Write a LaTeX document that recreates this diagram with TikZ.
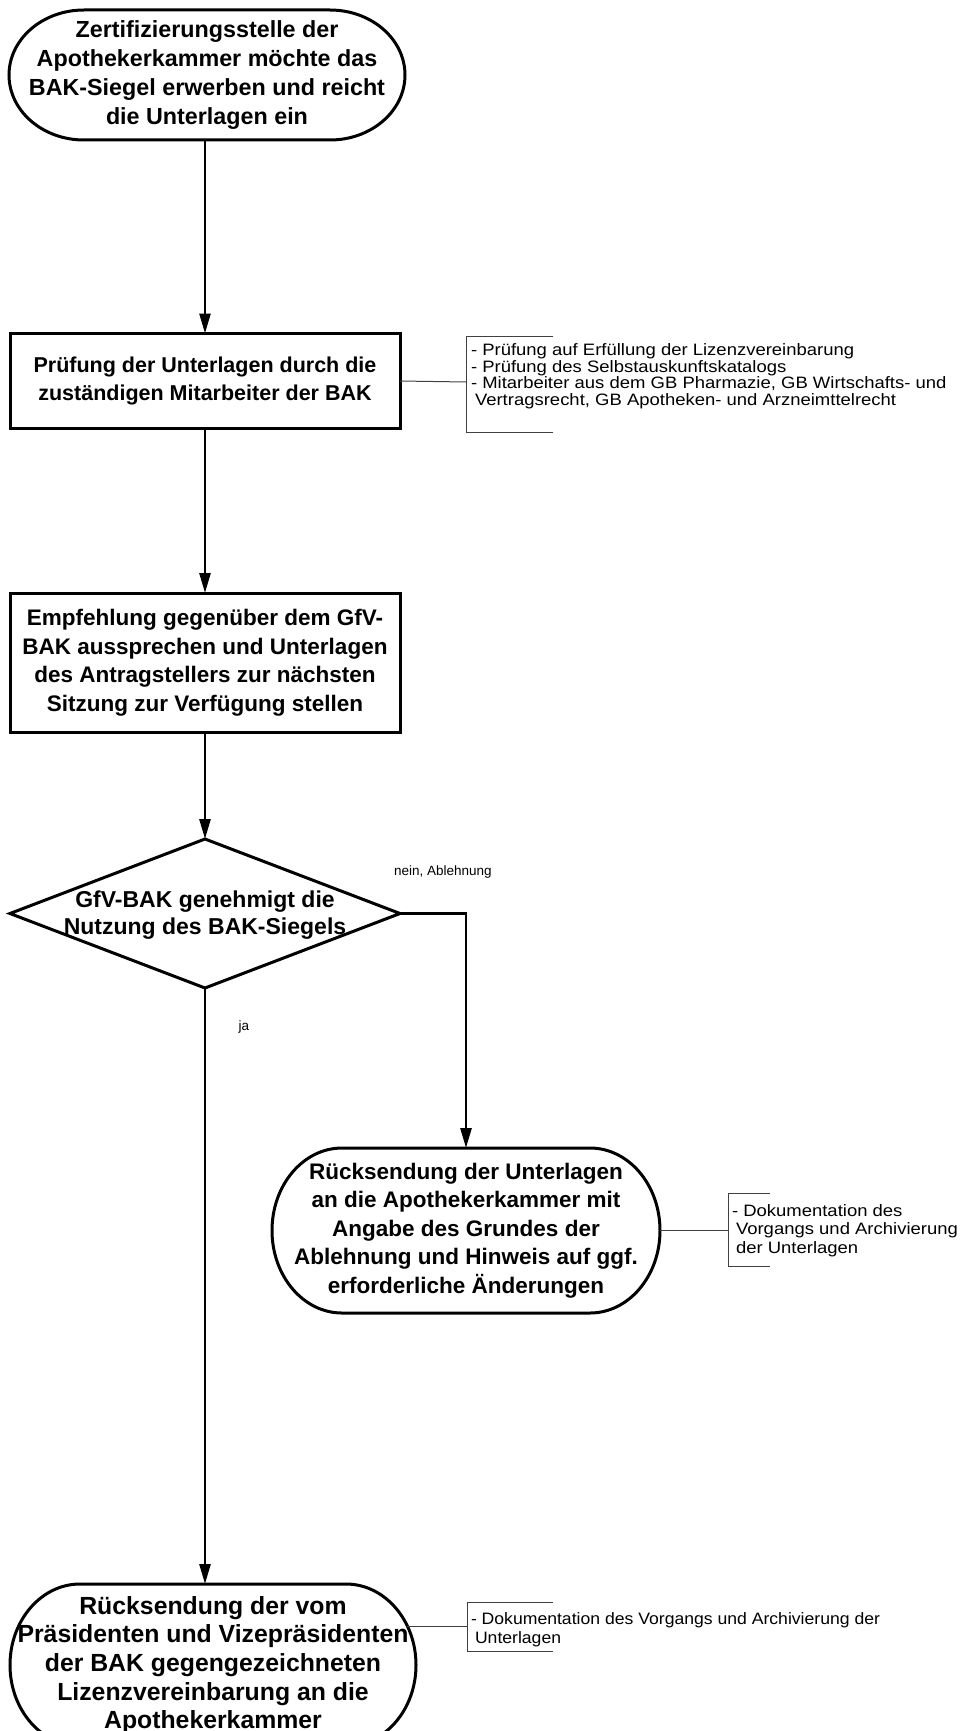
\documentclass[tikz,border=0pt]{standalone}
\usepackage{fontspec}
\setmainfont{Liberation Sans}
\newfontfamily\annfont[FakeStretch=1.12]{Liberation Sans}
\newfontfamily\annfontc[FakeStretch=1.067]{Liberation Sans}
\usetikzlibrary{shapes.geometric,arrows.meta}
\newcommand\boldtext{\fontsize{22.5}{28.5}\selectfont\bfseries}
\newcommand\anntextfont{\annfont\fontsize{16.5}{16.6}\selectfont}
\newcommand\anntextfontb{\annfont\fontsize{16.5}{18.6}\selectfont}
\newcommand\anntextfontc{\annfontc\fontsize{16.5}{18.6}\selectfont}
\begin{document}
\begin{tikzpicture}[x=1pt,y=1pt,
  every node/.style={inner sep=0pt,outer sep=0pt},
  shapeline/.style={draw=black,line width=3pt},
  flowbox/.style={shapeline,rectangle,minimum width=390pt,align=center,font=\boldtext},
  termbox/.style={rectangle,align=center,font=\boldtext},
  flowarrow/.style={line width=2.6pt,-{Triangle[length=20pt,width=11pt]}},
  annline/.style={draw=black!75,line width=1pt},
  anntext/.style={align=left,font=\anntextfont},
  anntextb/.style={align=left,font=\anntextfontb},
  anntextc/.style={align=left,font=\anntextfontc},
  edgelabel/.style={font=\fontsize{13.5}{15}\selectfont}
]
\useasboundingbox (0,0) rectangle (968,-1731);

% nodes
\node[termbox,minimum width=396pt,minimum height=130pt,font=\fontsize{23.3}{28.7}\selectfont\bfseries] (t1) at (207,-75)
  {Zertifizierungsstelle der\\Apothekerkammer möchte das\\BAK-Siegel erwerben und reicht\\die Unterlagen ein};
\draw[shapeline] ([xshift=75pt]t1.north west) -- ([xshift=-75pt]t1.north east)
  arc[start angle=90,end angle=-90,x radius=75pt,y radius=65pt]
  -- ([xshift=75pt]t1.south west)
  arc[start angle=270,end angle=90,x radius=75pt,y radius=65pt] -- cycle;

\node[flowbox,minimum height=95pt,font=\fontsize{21.5}{28}\selectfont\bfseries] (b2) at (205,-381)
  {Prüfung der Unterlagen durch die\\zuständigen Mitarbeiter der BAK};

\node[flowbox,minimum height=139pt] (b3) at (205,-662.5)
  {Empfehlung gegenüber dem GfV-\\BAK aussprechen und Unterlagen\\des Antragstellers zur nächsten\\Sitzung zur Verfügung stellen};

\node[diamond,shapeline,minimum width=390pt,minimum height=149pt,font=\fontsize{23}{27}\selectfont\bfseries] (dia) at (205,-913.5)
  {\raisebox{-16.5pt}{\makebox[0pt]{\smash{\begin{tabular}{@{}c@{}}GfV-BAK genehmigt die\\Nutzung des BAK-Siegels\end{tabular}}}}};

\node[termbox,minimum width=388pt,minimum height=165pt] (t2) at (466,-1230.5)
  {Rücksendung der Unterlagen\\an die Apothekerkammer mit\\Angabe des Grundes der\\Ablehnung und Hinweis auf ggf.\\erforderliche Änderungen};
\draw[shapeline] ([xshift=70pt]t2.north west) -- ([xshift=-70pt]t2.north east)
  arc[start angle=90,end angle=-90,x radius=70pt,y radius=82.5pt]
  -- ([xshift=70pt]t2.south west)
  arc[start angle=270,end angle=90,x radius=70pt,y radius=82.5pt] -- cycle;

\node[termbox,minimum width=406pt,minimum height=162pt,font=\fontsize{24.8}{28.6}\selectfont\bfseries] (t3) at (213,-1665)
  {Rücksendung der vom\\Präsidenten und Vizepräsidenten\\der BAK gegengezeichneten\\Lizenzvereinbarung an die\\Apothekerkammer};
\draw[shapeline] ([xshift=70pt]t3.north west) -- ([xshift=-70pt]t3.north east)
  arc[start angle=90,end angle=-90,x radius=70pt,y radius=81pt]
  -- ([xshift=70pt]t3.south west)
  arc[start angle=270,end angle=90,x radius=70pt,y radius=81pt] -- cycle;

% main connectors
\draw[flowarrow] (b2.north |- t1.south) -- (b2.north);
\draw[flowarrow] (b2.south) -- (b3.north);
\draw[flowarrow] (b3.south) -- (dia.north);
\draw[flowarrow] (dia.east) -| (t2.north);
\draw[flowarrow] (dia.south) -- (dia.south |- t3.north);

\node[edgelabel,anchor=west] (nein) at (394,-872) {nein, Ablehnung};
\node[edgelabel] (ja) at (244,-1027) {ja};

% annotation 1
\coordinate (a1) at (466,-382);
\draw[annline] (b2.east) -- (a1);
\draw[annline] (553,-336) -- (466,-336) -- (466,-432) -- (553,-432);
\node[anntext,anchor=north west] (n1) at (471,-343.5)
  {- Prüfung auf Erfüllung der Lizenzvereinbarung\\- Prüfung des Selbstauskunftskatalogs\\- Mitarbeiter aus dem GB Pharmazie, GB Wirtschafts- und\\\hspace*{4pt}Vertragsrecht, GB Apotheken- und Arzneimttelrecht};

% annotation 2
\coordinate (a2) at (728,-1230.5);
\draw[annline] (t2.east) -- (a2);
\draw[annline] (770,-1193) -- (728,-1193) -- (728,-1266) -- (770,-1266);
\node[anntextb,anchor=west] (n2) at (732,-1230.5)
  {- Dokumentation des\\\hspace*{4pt}Vorgangs und Archivierung\\\hspace*{4pt}der Unterlagen};

% annotation 3
\coordinate (t3r) at ([xshift=-9pt,yshift=39pt]t3.east);
\coordinate (a3) at (467,-1626);
\draw[annline] (t3r) -- (a3);
\draw[annline] (553,-1602) -- (467,-1602) -- (467,-1651) -- (553,-1651);
\node[anntextc,anchor=west] (n3) at (471,-1629.5)
  {- Dokumentation des Vorgangs und Archivierung der\\\hspace*{4pt}Unterlagen};
\end{tikzpicture}
\end{document}
